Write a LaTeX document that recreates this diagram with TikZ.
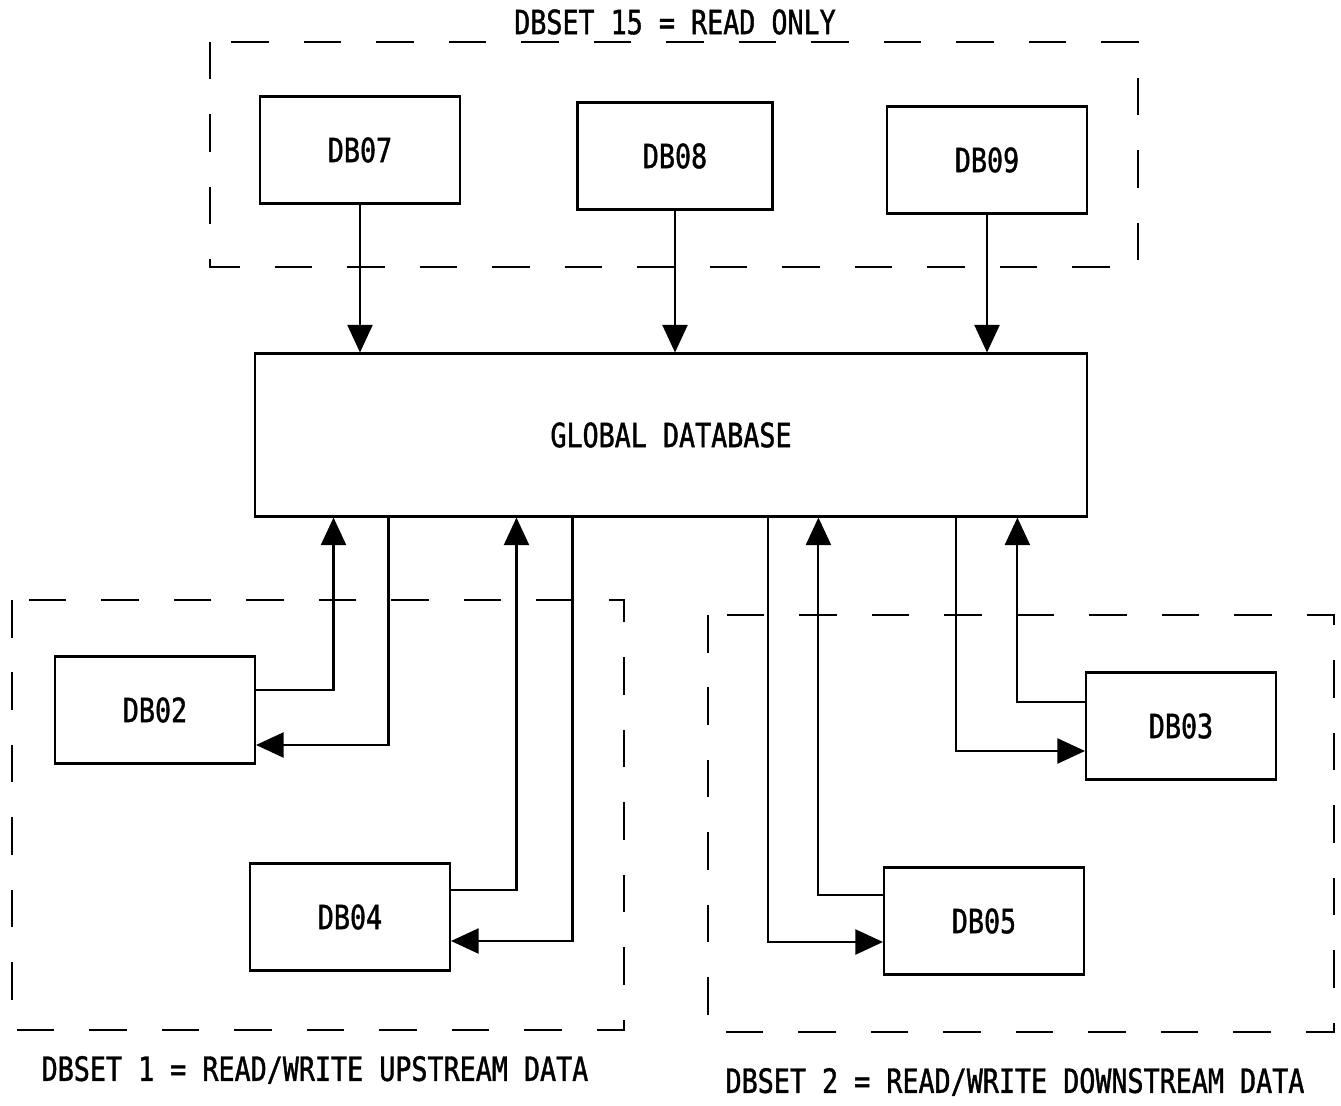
\documentclass[tikz,border=0pt]{standalone}
\usepackage{fontspec}
\setmonofont[FakeStretch=0.8, FakeBold=1.2]{DejaVu Sans Mono}
\usetikzlibrary{arrows.meta,calc}
\begin{document}
\begin{tikzpicture}[
    x=0.02cm, y=-0.02cm,
    every node/.style={font=\ttfamily\fontsize{19}{22}\selectfont},
    dbbox/.style={rectangle, draw, line width=1.2pt, minimum width=4cm, minimum height=2.14cm, inner sep=0pt},
    arr/.style={line width=1.2pt, -{Triangle[length=5.5mm, width=5mm]}},
    grp/.style={line width=0.9pt, dash pattern=on 7.5mm off 7mm}
]
    \useasboundingbox (0,0) rectangle (1341,1105);
    % groups
    \draw[grp] (210,42) rectangle (1138,267);
    \draw[grp] (12,600) rectangle (624,1030);
    \draw[grp] (708,615) rectangle (1334,1032);
    \node (set15) at (675,22) {DBSET 15 = READ ONLY};
    \node (set1) at (315,1070) {DBSET 1 = READ/WRITE UPSTREAM DATA};
    \node (set2) at (1015,1082) {DBSET 2 = READ/WRITE DOWNSTREAM DATA};
    % databases
    \node[dbbox] (db07) at (360,150) {DB07};
    \node[dbbox, minimum width=3.9cm] (db08) at (675,156) {DB08};
    \node[dbbox] (db09) at (987,160) {DB09};
    \node[dbbox, minimum width=16.66cm, minimum height=3.26cm] (glob) at (671,435) {GLOBAL DATABASE};
    \node[dbbox] (db02) at (155,710) {DB02};
    \node[dbbox] (db04) at (350,917) {DB04};
    \node[dbbox, minimum width=3.8cm] (db03) at (1181,726) {DB03};
    \node[dbbox] (db05) at (984,921) {DB05};
    % read only
    \draw[arr] (db07.south) -- (db07.south |- glob.north);
    \draw[arr] (db08.south) -- (db08.south |- glob.north);
    \draw[arr] (db09.south) -- (db09.south |- glob.north);
    % upstream
    \draw[arr] ([yshift=4mm]db02.east) -| ([xshift=16mm]glob.south west);
    \draw[arr] ([xshift=27mm]glob.south west) |- ([yshift=-7mm]db02.east);
    \draw[arr] ([yshift=5.4mm]db04.east) -| ([xshift=52.6mm]glob.south west);
    \draw[arr] ([xshift=63.8mm]glob.south west) |- ([yshift=-4.8mm]db04.east);
    % downstream
    \draw[arr] ([xshift=103mm]glob.south west) |- ([yshift=-4.2mm]db05.west);
    \draw[arr] ([yshift=5.2mm]db05.west) -| ([xshift=113mm]glob.south west);
    \draw[arr] ([xshift=140.6mm]glob.south west) |- ([yshift=-5mm]db03.west);
    \draw[arr] ([yshift=4.8mm]db03.west) -| ([xshift=152.8mm]glob.south west);
\end{tikzpicture}
\end{document}
